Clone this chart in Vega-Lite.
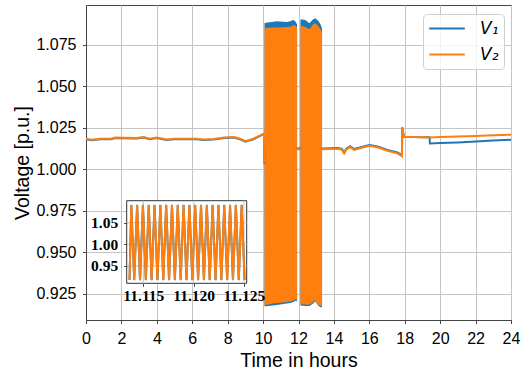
{
  "$schema": "https://vega.github.io/schema/vega-lite/v6.json",
  "width": 425,
  "height": 315,
  "autosize": {"type": "none"},
  "padding": {"left": 86, "top": 5, "right": 17, "bottom": 55},
  "background": "white",
  "config": {
    "view": {"stroke": "#444", "strokeWidth": 1},
    "font": "Liberation Sans",
    "axis": {
      "labelFont": "Liberation Sans", "titleFont": "Liberation Sans",
      "labelFontSize": 16, "titleFontSize": 19.5, "titleFontWeight": "normal",
      "labelColor": "#000", "titleColor": "#000",
      "gridColor": "#c4c4c4", "gridWidth": 1,
      "domainColor": "#444", "tickColor": "#444", "tickSize": 3.5,
      "labelFlush": false, "labelOverlap": false
    }
  },
  "datasets": {
    "main": [
      {"t": 0, "V1": 1.0182, "V2": 1.0185, "seg": "A"},
      {"t": 0.3, "V1": 1.0176, "V2": 1.0179, "seg": "A"},
      {"t": 0.8, "V1": 1.0182, "V2": 1.0185, "seg": "A"},
      {"t": 1.4, "V1": 1.0182, "V2": 1.0185, "seg": "A"},
      {"t": 1.65, "V1": 1.019, "V2": 1.0193, "seg": "A"},
      {"t": 2.1, "V1": 1.0188, "V2": 1.0191, "seg": "A"},
      {"t": 2.85, "V1": 1.0186, "V2": 1.0189, "seg": "A"},
      {"t": 3.25, "V1": 1.0192, "V2": 1.0195, "seg": "A"},
      {"t": 3.6, "V1": 1.0182, "V2": 1.0185, "seg": "A"},
      {"t": 4.0, "V1": 1.019, "V2": 1.0193, "seg": "A"},
      {"t": 4.55, "V1": 1.0178, "V2": 1.0181, "seg": "A"},
      {"t": 4.95, "V1": 1.0182, "V2": 1.0185, "seg": "A"},
      {"t": 5.7, "V1": 1.0182, "V2": 1.0185, "seg": "A"},
      {"t": 6.25, "V1": 1.0182, "V2": 1.0185, "seg": "A"},
      {"t": 6.65, "V1": 1.0178, "V2": 1.0181, "seg": "A"},
      {"t": 7.2, "V1": 1.018, "V2": 1.0183, "seg": "A"},
      {"t": 7.8, "V1": 1.019, "V2": 1.0193, "seg": "A"},
      {"t": 8.35, "V1": 1.0192, "V2": 1.0195, "seg": "A"},
      {"t": 8.7, "V1": 1.0182, "V2": 1.0185, "seg": "A"},
      {"t": 9.0, "V1": 1.0167, "V2": 1.017, "seg": "A"},
      {"t": 9.45, "V1": 1.0182, "V2": 1.0185, "seg": "A"},
      {"t": 9.95, "V1": 1.0208, "V2": 1.0211, "seg": "A"},
      {"t": 10.05, "V1": 1.0212, "V2": 1.0215, "seg": "A"},
      {"t": 10.08, "V1": 1.0035, "V2": 1.004, "seg": "A"},
      {"t": 11.9, "V1": 1.0127, "V2": 1.0122, "seg": "B"},
      {"t": 12.13, "V1": 1.0127, "V2": 1.0122, "seg": "B"},
      {"t": 13.3, "V1": 1.0127, "V2": 1.0122, "seg": "C"},
      {"t": 13.45, "V1": 1.0127, "V2": 1.0122, "seg": "C"},
      {"t": 14.2, "V1": 1.013, "V2": 1.0125, "seg": "C"},
      {"t": 14.45, "V1": 1.0124, "V2": 1.0119, "seg": "C"},
      {"t": 14.58, "V1": 1.0101, "V2": 1.0096, "seg": "C"},
      {"t": 14.7, "V1": 1.0125, "V2": 1.012, "seg": "C"},
      {"t": 14.92, "V1": 1.014, "V2": 1.0135, "seg": "C"},
      {"t": 15.14, "V1": 1.0123, "V2": 1.0118, "seg": "C"},
      {"t": 15.52, "V1": 1.0134, "V2": 1.0129, "seg": "C"},
      {"t": 16.0, "V1": 1.0148, "V2": 1.0143, "seg": "C"},
      {"t": 16.46, "V1": 1.0139, "V2": 1.0134, "seg": "C"},
      {"t": 17.02, "V1": 1.0118, "V2": 1.0113, "seg": "C"},
      {"t": 17.58, "V1": 1.0102, "V2": 1.0097, "seg": "C"},
      {"t": 17.84, "V1": 1.0087, "V2": 1.008, "seg": "C"},
      {"t": 17.86, "V1": 1.0255, "V2": 1.0255, "seg": "C"},
      {"t": 17.95, "V1": 1.0197, "V2": 1.0197, "seg": "C"},
      {"t": 18.5, "V1": 1.0195, "V2": 1.0195, "seg": "C"},
      {"t": 19.0, "V1": 1.0194, "V2": 1.0194, "seg": "C"},
      {"t": 19.4, "V1": 1.0194, "V2": 1.0193, "seg": "C"},
      {"t": 19.42, "V1": 1.0157, "V2": 1.0193, "seg": "C"},
      {"t": 20, "V1": 1.0159, "V2": 1.0195, "seg": "C"},
      {"t": 21, "V1": 1.0163, "V2": 1.0199, "seg": "C"},
      {"t": 22, "V1": 1.0168, "V2": 1.0202, "seg": "C"},
      {"t": 23, "V1": 1.0174, "V2": 1.0206, "seg": "C"},
      {"t": 24, "V1": 1.0179, "V2": 1.0209, "seg": "C"}
    ],
    "band": [
      {"s": "V1", "seg": "a", "t": 10.08, "lo": 0.9176, "hi": 1.0882},
      {"s": "V1", "seg": "a", "t": 10.17, "lo": 0.9176, "hi": 1.0884},
      {"s": "V1", "seg": "a", "t": 10.78, "lo": 0.9184, "hi": 1.0893},
      {"s": "V1", "seg": "a", "t": 11.15, "lo": 0.919, "hi": 1.089},
      {"s": "V1", "seg": "a", "t": 11.34, "lo": 0.9193, "hi": 1.0888},
      {"s": "V1", "seg": "a", "t": 11.53, "lo": 0.9196, "hi": 1.0893},
      {"s": "V1", "seg": "a", "t": 11.68, "lo": 0.92, "hi": 1.09},
      {"s": "V1", "seg": "a", "t": 11.81, "lo": 0.9208, "hi": 1.0895},
      {"s": "V1", "seg": "a", "t": 11.85, "lo": 0.921, "hi": 1.0885},
      {"s": "V1", "seg": "a", "t": 11.92, "lo": 0.9204, "hi": 1.0875},
      {"s": "V1", "seg": "b", "t": 12.11, "lo": 0.9182, "hi": 1.09},
      {"s": "V1", "seg": "b", "t": 12.13, "lo": 0.9181, "hi": 1.0905},
      {"s": "V1", "seg": "b", "t": 12.38, "lo": 0.9178, "hi": 1.09},
      {"s": "V1", "seg": "b", "t": 12.62, "lo": 0.9177, "hi": 1.0881},
      {"s": "V1", "seg": "b", "t": 12.83, "lo": 0.9192, "hi": 1.0905},
      {"s": "V1", "seg": "b", "t": 12.94, "lo": 0.9206, "hi": 1.0911},
      {"s": "V1", "seg": "b", "t": 13.13, "lo": 0.9177, "hi": 1.0895},
      {"s": "V1", "seg": "b", "t": 13.26, "lo": 0.917, "hi": 1.087},
      {"s": "V1", "seg": "b", "t": 13.33, "lo": 0.9172, "hi": 1.0846},
      {"s": "V2", "seg": "a", "t": 10.08, "lo": 0.9184, "hi": 1.0852},
      {"s": "V2", "seg": "a", "t": 10.17, "lo": 0.9184, "hi": 1.0854},
      {"s": "V2", "seg": "a", "t": 10.63, "lo": 0.9194, "hi": 1.0855},
      {"s": "V2", "seg": "a", "t": 11.15, "lo": 0.9198, "hi": 1.0857},
      {"s": "V2", "seg": "a", "t": 11.53, "lo": 0.9204, "hi": 1.086},
      {"s": "V2", "seg": "a", "t": 11.66, "lo": 0.9208, "hi": 1.0864},
      {"s": "V2", "seg": "a", "t": 11.72, "lo": 0.921, "hi": 1.087},
      {"s": "V2", "seg": "a", "t": 11.81, "lo": 0.9216, "hi": 1.0868},
      {"s": "V2", "seg": "a", "t": 11.85, "lo": 0.9218, "hi": 1.0862},
      {"s": "V2", "seg": "a", "t": 11.92, "lo": 0.9212, "hi": 1.0855},
      {"s": "V2", "seg": "b", "t": 12.11, "lo": 0.919, "hi": 1.0864},
      {"s": "V2", "seg": "b", "t": 12.19, "lo": 0.9188, "hi": 1.0864},
      {"s": "V2", "seg": "b", "t": 12.38, "lo": 0.9186, "hi": 1.0858},
      {"s": "V2", "seg": "b", "t": 12.62, "lo": 0.9185, "hi": 1.0845},
      {"s": "V2", "seg": "b", "t": 12.83, "lo": 0.92, "hi": 1.0875},
      {"s": "V2", "seg": "b", "t": 12.92, "lo": 0.9214, "hi": 1.0881},
      {"s": "V2", "seg": "b", "t": 13.07, "lo": 0.919, "hi": 1.087},
      {"s": "V2", "seg": "b", "t": 13.13, "lo": 0.9185, "hi": 1.0862},
      {"s": "V2", "seg": "b", "t": 13.26, "lo": 0.9178, "hi": 1.084},
      {"s": "V2", "seg": "b", "t": 13.33, "lo": 0.918, "hi": 1.083}
    ],
    "insetGridX": [{"g": 11.115}, {"g": 11.12}, {"g": 11.125}],
    "insetGridY": [{"g": 0.95}, {"g": 1.0}, {"g": 1.05}],
    "inset": [
      {"t": 11.11363, "V1": 0.9174, "V2": 0.9177},
      {"t": 11.113808, "V1": 1.0911, "V2": 1.0905},
      {"t": 11.114096, "V1": 0.9174, "V2": 0.9177},
      {"t": 11.114385, "V1": 1.0911, "V2": 1.0905},
      {"t": 11.114673, "V1": 0.9174, "V2": 0.9177},
      {"t": 11.114962, "V1": 1.0911, "V2": 1.0905},
      {"t": 11.11525, "V1": 0.9174, "V2": 0.9177},
      {"t": 11.115539, "V1": 1.0911, "V2": 1.0905},
      {"t": 11.115827, "V1": 0.9174, "V2": 0.9177},
      {"t": 11.116116, "V1": 1.0911, "V2": 1.0905},
      {"t": 11.116404, "V1": 0.9174, "V2": 0.9177},
      {"t": 11.116693, "V1": 1.0911, "V2": 1.0905},
      {"t": 11.116981, "V1": 0.9174, "V2": 0.9177},
      {"t": 11.11727, "V1": 1.0911, "V2": 1.0905},
      {"t": 11.117558, "V1": 0.9174, "V2": 0.9177},
      {"t": 11.117847, "V1": 1.0911, "V2": 1.0905},
      {"t": 11.118135, "V1": 0.9174, "V2": 0.9177},
      {"t": 11.118424, "V1": 1.0911, "V2": 1.0905},
      {"t": 11.118712, "V1": 0.9174, "V2": 0.9177},
      {"t": 11.119001, "V1": 1.0911, "V2": 1.0905},
      {"t": 11.119289, "V1": 0.9174, "V2": 0.9177},
      {"t": 11.119578, "V1": 1.0911, "V2": 1.0905},
      {"t": 11.119866, "V1": 0.9174, "V2": 0.9177},
      {"t": 11.120155, "V1": 1.0911, "V2": 1.0905},
      {"t": 11.120443, "V1": 0.9174, "V2": 0.9177},
      {"t": 11.120732, "V1": 1.0911, "V2": 1.0905},
      {"t": 11.12102, "V1": 0.9174, "V2": 0.9177},
      {"t": 11.121309, "V1": 1.0911, "V2": 1.0905},
      {"t": 11.121597, "V1": 0.9174, "V2": 0.9177},
      {"t": 11.121886, "V1": 1.0911, "V2": 1.0905},
      {"t": 11.122174, "V1": 0.9174, "V2": 0.9177},
      {"t": 11.122463, "V1": 1.0911, "V2": 1.0905},
      {"t": 11.122751, "V1": 0.9174, "V2": 0.9177},
      {"t": 11.12304, "V1": 1.0911, "V2": 1.0905},
      {"t": 11.123328, "V1": 0.9174, "V2": 0.9177},
      {"t": 11.123617, "V1": 1.0911, "V2": 1.0905},
      {"t": 11.123905, "V1": 0.9174, "V2": 0.9177},
      {"t": 11.124194, "V1": 1.0911, "V2": 1.0905},
      {"t": 11.124482, "V1": 0.9174, "V2": 0.9177},
      {"t": 11.124771, "V1": 1.0911, "V2": 1.0905},
      {"t": 11.125059, "V1": 0.9174, "V2": 0.9177}
    ]
  },
  "layer": [
    {
      "layer": [
        {
          "data": {"name": "band"},
          "mark": {"type": "area", "opacity": 1},
          "encoding": {
            "x": {"field": "t", "type": "quantitative",
              "scale": {"domain": [0, 24], "nice": false, "zero": false},
              "axis": {"values": [0, 2, 4, 6, 8, 10, 12, 14, 16, 18, 20, 22, 24], "tickCount": 13, "labelOverlap": false, "labelFlush": false, "title": "Time in hours", "labelPadding": 7, "titlePadding": 5, "grid": true}},
            "y": {"field": "lo", "type": "quantitative", "stack": null,
              "scale": {"domain": [0.9093, 1.0991], "nice": false, "zero": false},
              "axis": {"values": [0.925, 0.95, 0.975, 1.0, 1.025, 1.05, 1.075], "format": ".3f", "title": "Voltage [p.u.]", "labelPadding": 6.5, "titlePadding": 3, "grid": true}},
            "y2": {"field": "hi"},
            "color": {"field": "s", "type": "nominal",
              "scale": {"domain": ["V1", "V2"], "range": ["#1f77b4", "#ff7f0e"]},
              "legend": {
                "title": null, "orient": "none", "legendX": 337, "legendY": 9,
                "symbolType": "stroke", "symbolStrokeWidth": 2, "symbolSize": 1267,
                "clipHeight": 19, "rowPadding": 7, "padding": 5, "labelOffset": 14,
                "labelFont": "DejaVu Sans", "labelFontStyle": "italic", "labelFontSize": 17, "labelColor": "#000",
                "labelExpr": "datum.label == 'V1' ? 'V₁' : 'V₂'",
                "fillColor": "rgba(255,255,255,0.8)", "strokeColor": "#cfcfcf", "cornerRadius": 4
              }},
            "detail": {"field": "seg"}
          }
        },
        {
          "data": {"name": "main"},
          "transform": [{"fold": ["V1", "V2"], "as": ["s", "v"]}],
          "mark": {"type": "line", "strokeWidth": 2},
          "encoding": {
            "x": {"field": "t", "type": "quantitative"},
            "y": {"field": "v", "type": "quantitative"},
            "color": {"field": "s", "type": "nominal"},
            "detail": {"field": "seg"}
          }
        }
      ]
    },
    {
      "layer": [
        {
          "data": {"values": [{}]},
          "mark": {"type": "rect", "fill": "white", "stroke": "#333", "strokeWidth": 1},
          "encoding": {
            "x": {"datum": 11.11335, "type": "quantitative",
              "scale": {"domain": [11.11335, 11.12527], "range": [40.7, 160.7], "nice": false, "zero": false},
              "axis": {"orient": "bottom", "offset": -36.7, "values": [11.115, 11.12, 11.125], "format": ".3f",
                "labelFont": "Liberation Serif", "labelFontWeight": "bold", "labelFontSize": 15.5,
                "title": null, "grid": false, "zindex": 1, "domain": false, "tickSize": 3, "labelPadding": 2}},
            "x2": {"datum": 11.12527},
            "y": {"datum": 0.91, "type": "quantitative",
              "scale": {"domain": [0.91, 1.1008], "range": [278.3, 195.7], "nice": false, "zero": false},
              "axis": {"orient": "left", "offset": -40.7, "values": [0.95, 1.0, 1.05], "format": ".2f",
                "labelFont": "Liberation Serif", "labelFontWeight": "bold", "labelFontSize": 15.5,
                "title": null, "grid": false, "zindex": 1, "domain": false, "tickSize": 3, "labelPadding": 6}},
            "y2": {"datum": 1.1008}
          }
        },
        {
          "data": {"name": "insetGridX"},
          "mark": {"type": "rule", "color": "#c4c4c4", "strokeWidth": 1},
          "encoding": {
            "x": {"field": "g", "type": "quantitative"},
            "y": {"datum": 0.91, "type": "quantitative"},
            "y2": {"datum": 1.1008}
          }
        },
        {
          "data": {"name": "insetGridY"},
          "mark": {"type": "rule", "color": "#c4c4c4", "strokeWidth": 1},
          "encoding": {
            "y": {"field": "g", "type": "quantitative"},
            "x": {"datum": 11.11335, "type": "quantitative"},
            "x2": {"datum": 11.12527}
          }
        },
        {
          "data": {"name": "inset"},
          "transform": [{"fold": ["V1", "V2"], "as": ["s", "v"]}],
          "mark": {"type": "line", "strokeWidth": 2},
          "encoding": {
            "x": {"field": "t", "type": "quantitative"},
            "y": {"field": "v", "type": "quantitative"},
            "color": {"field": "s", "type": "nominal"}
          }
        }
      ]
    }
  ],
  "resolve": {
    "scale": {"x": "independent", "y": "independent"},
    "axis": {"x": "independent", "y": "independent"}
  }
}
